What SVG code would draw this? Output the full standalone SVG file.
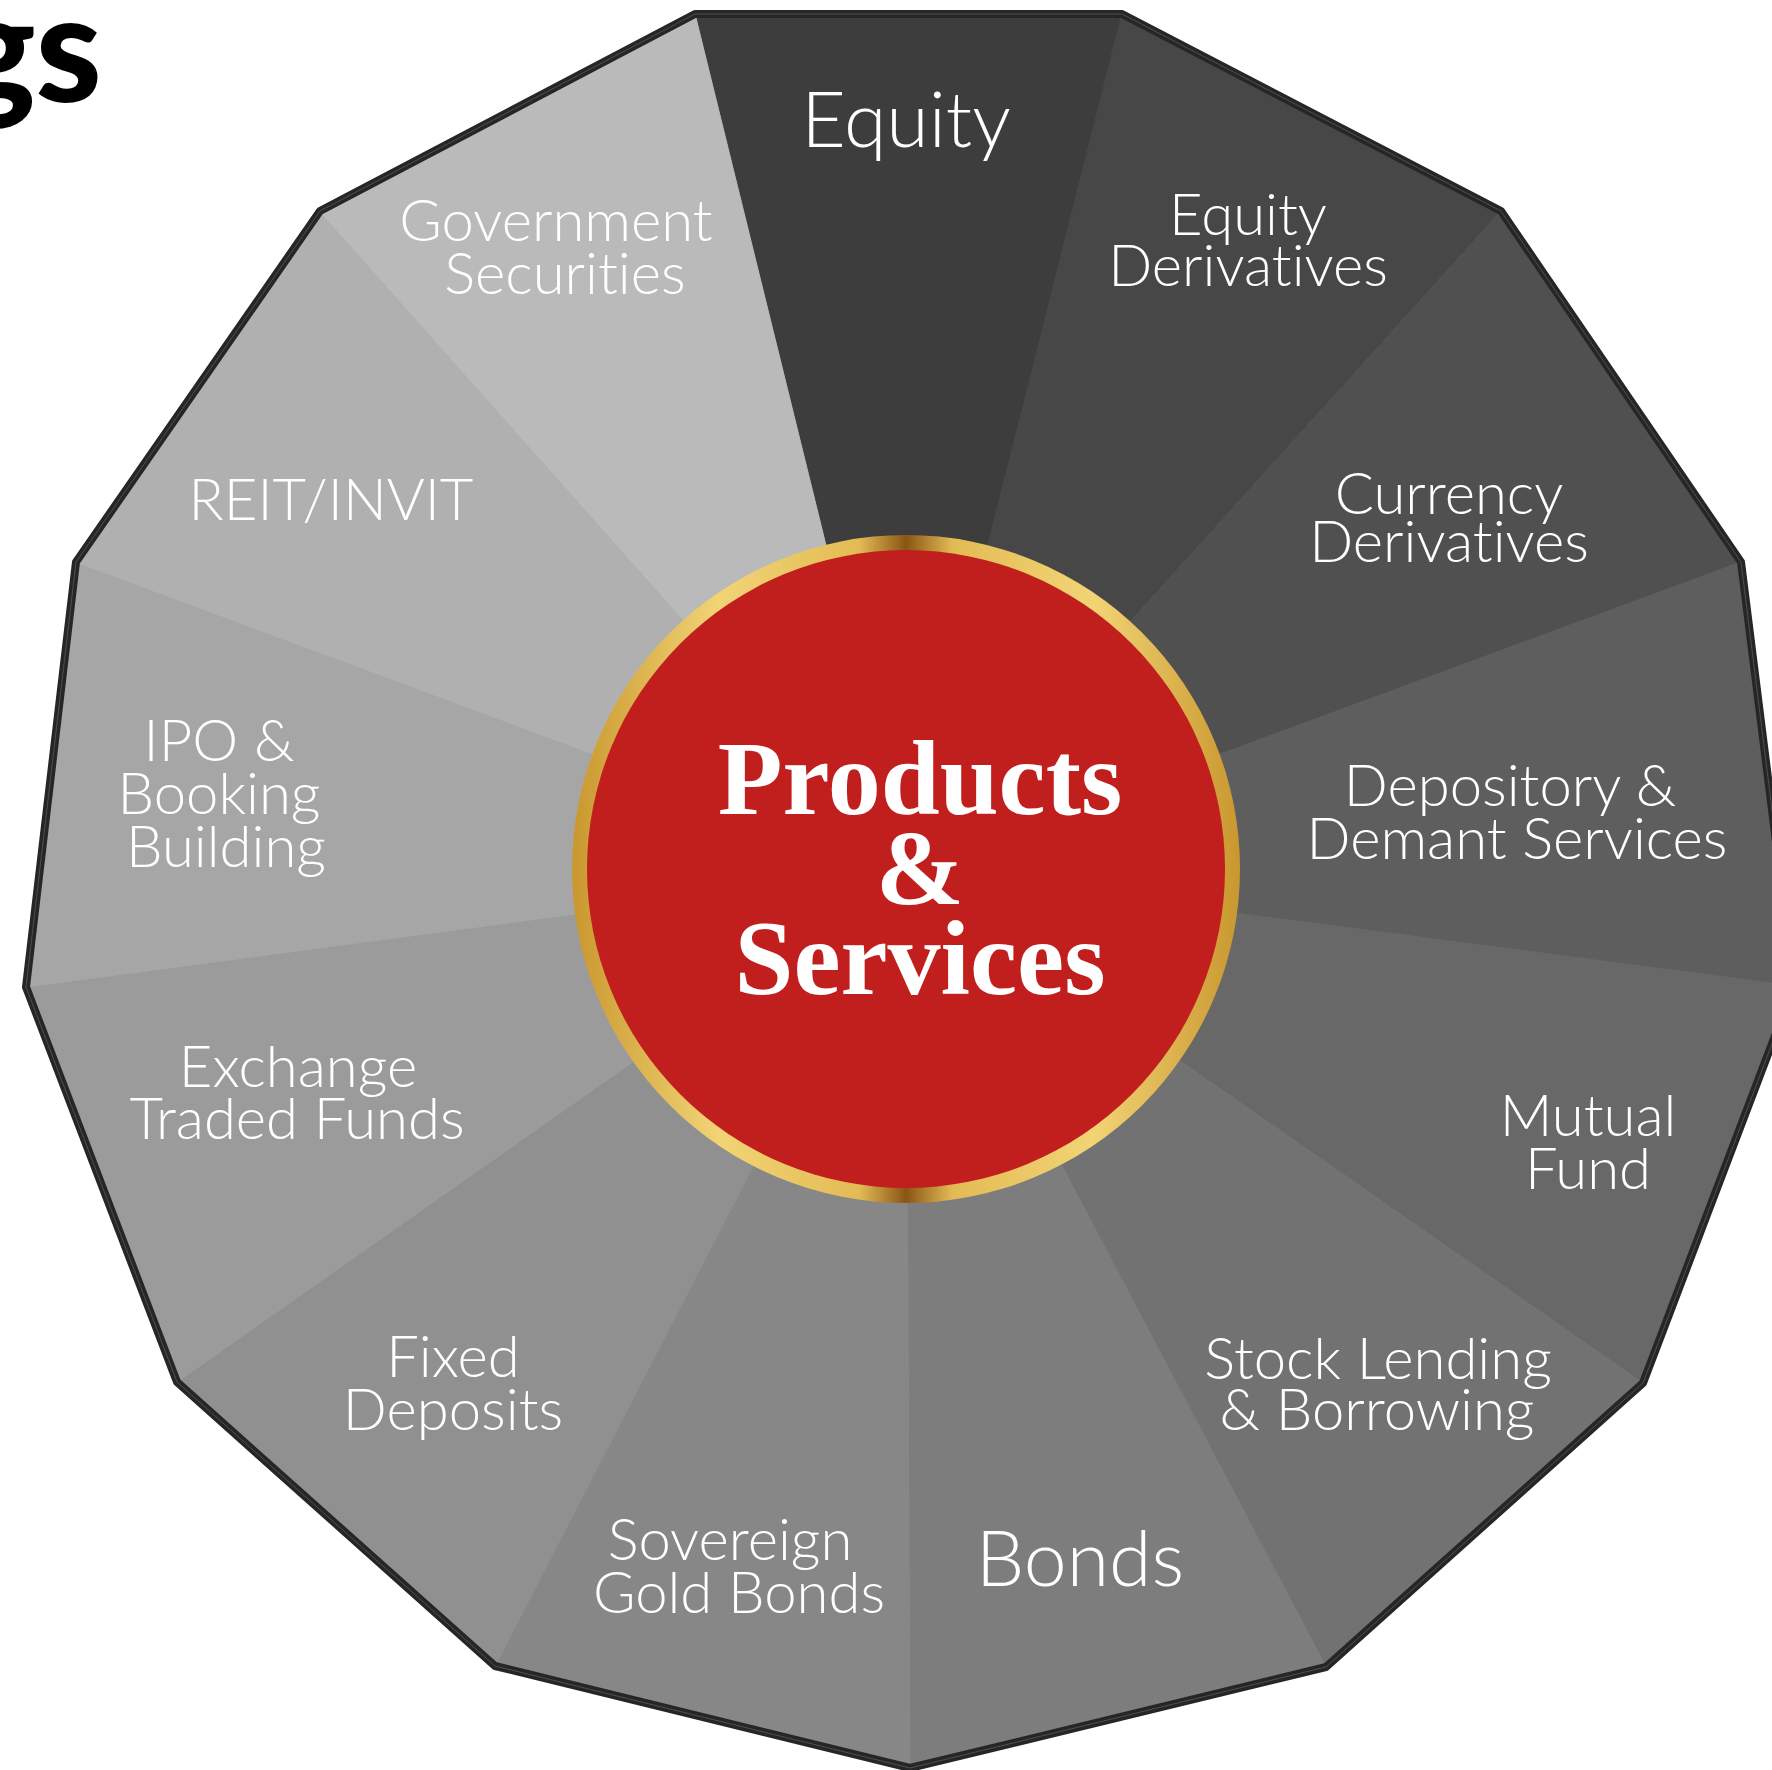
<svg xmlns="http://www.w3.org/2000/svg" width="1772" height="1770" viewBox="0 0 1772 1770">
<defs>
<style>
.lbl{font-family:Lato,"Open Sans","Liberation Sans",sans-serif;font-weight:300;fill:#ffffff;text-anchor:middle;font-size:58px;font-variant-ligatures:none;font-feature-settings:"liga" 0,"clig" 0}
.big{font-size:77px}
.ctr{font-family:"Liberation Serif","DejaVu Serif",serif;font-weight:700;fill:#ffffff;text-anchor:middle;font-size:106px}
.seg{stroke-width:1;stroke-linejoin:round}
</style>
<linearGradient id="gold" x1="0" y1="0" x2="1" y2="0">
<stop offset="0" stop-color="#c9972f"/>
<stop offset="0.22" stop-color="#f2d475"/>
<stop offset="0.43" stop-color="#e3bb55"/>
<stop offset="0.5" stop-color="#8a5514"/>
<stop offset="0.57" stop-color="#e3bb55"/>
<stop offset="0.78" stop-color="#f2d475"/>
<stop offset="1" stop-color="#c9972f"/>
</linearGradient>
</defs>
<rect width="1772" height="1770" fill="#ffffff"/>
<text x="102" y="102" font-family="Lato,'Open Sans','Liberation Sans',sans-serif" font-weight="900" font-size="150" text-anchor="end" fill="#000000">gs</text>

<g id="wheel">
<g id="equity"><polygon class="seg" fill="#3d3d3d" stroke="#3d3d3d" points="906,870 695,14 1122,14"/><text class="lbl big" x="906" y="147">Equity</text></g>
<g id="equity-derivatives"><polygon class="seg" fill="#474747" stroke="#474747" points="906,870 1122,14 1501,211"/><text class="lbl" x="1248" y="235">Equity</text><text class="lbl" x="1248" y="286">Derivatives</text></g>
<g id="currency-derivatives"><polygon class="seg" fill="#505050" stroke="#505050" points="906,870 1501,211 1741,562"/><text class="lbl" x="1449" y="514">Currency</text><text class="lbl" x="1449" y="562">Derivatives</text></g>
<g id="depository"><polygon class="seg" fill="#5e5e5e" stroke="#5e5e5e" points="906,870 1741,562 1794,986"/><text class="lbl" x="1510" y="806">Depository &amp;</text><text class="lbl" x="1517" y="859">Demant Services</text></g>
<g id="mutual-fund"><polygon class="seg" fill="#686868" stroke="#686868" points="906,870 1794,986 1643,1383"/><text class="lbl" x="1588" y="1136">Mutual</text><text class="lbl" x="1588" y="1189">Fund</text></g>
<g id="stock-lending"><polygon class="seg" fill="#727272" stroke="#727272" points="906,870 1643,1383 1326,1667"/><text class="lbl" x="1378" y="1379">Stock Lending</text><text class="lbl" x="1377" y="1430">&amp; Borrowing</text></g>
<g id="bonds"><polygon class="seg" fill="#7d7d7d" stroke="#7d7d7d" points="906,870 1326,1667 910,1768"/><text class="lbl big" x="1080" y="1586">Bonds</text></g>
<g id="sovereign-gold-bonds"><polygon class="seg" fill="#878787" stroke="#878787" points="906,870 910,1768 495,1666"/><text class="lbl" x="730" y="1560">Sovereign</text><text class="lbl" x="739" y="1613">Gold Bonds</text></g>
<g id="fixed-deposits"><polygon class="seg" fill="#909090" stroke="#909090" points="906,870 495,1666 177,1382"/><text class="lbl" x="453" y="1377">Fixed</text><text class="lbl" x="453" y="1430">Deposits</text></g>
<g id="etf"><polygon class="seg" fill="#9b9b9b" stroke="#9b9b9b" points="906,870 177,1382 26,987"/><text class="lbl" x="298" y="1087">Exchange</text><text class="lbl" x="297" y="1139">Traded Funds</text></g>
<g id="ipo"><polygon class="seg" fill="#a6a6a6" stroke="#a6a6a6" points="906,870 26,987 76,562"/><text class="lbl" x="219" y="761">IPO &amp;</text><text class="lbl" x="219" y="814">Booking</text><text class="lbl" x="226" y="867">Building</text></g>
<g id="reit"><polygon class="seg" fill="#b0b0b0" stroke="#b0b0b0" points="906,870 76,562 320,211"/><text class="lbl" x="331" y="520">REIT/INVIT</text></g>
<g id="government-securities"><polygon class="seg" fill="#bababa" stroke="#bababa" points="906,870 320,211 695,14"/><text class="lbl" x="556" y="241">Government</text><text class="lbl" x="565" y="294">Securities</text></g>
<polygon id="outline" points="695,14 1122,14 1501,211 1741,562 1794,986 1643,1383 1326,1667 910,1768 495,1666 177,1382 26,987 76,562 320,211" fill="none" stroke="#262626" stroke-width="8" stroke-linejoin="round"/>
<polygon points="695,14 1122,14 1501,211 1741,562 1794,986 1643,1383 1326,1667 910,1768 495,1666 177,1382 26,987 76,562 320,211" fill="none" stroke="#6a6a6a" stroke-width="1" stroke-linejoin="round" opacity="0.6"/>
</g>

<g id="center">
<circle cx="906" cy="869" r="334" fill="url(#gold)"/>
<circle cx="906" cy="869" r="319" fill="#c11e1e"/>
<text class="ctr" x="920" y="814">Products</text>
<text class="ctr" x="920" y="904" font-size="100">&amp;</text>
<text class="ctr" x="920" y="994">Services</text>
</g>
<g id="connectors"/>
</svg>
